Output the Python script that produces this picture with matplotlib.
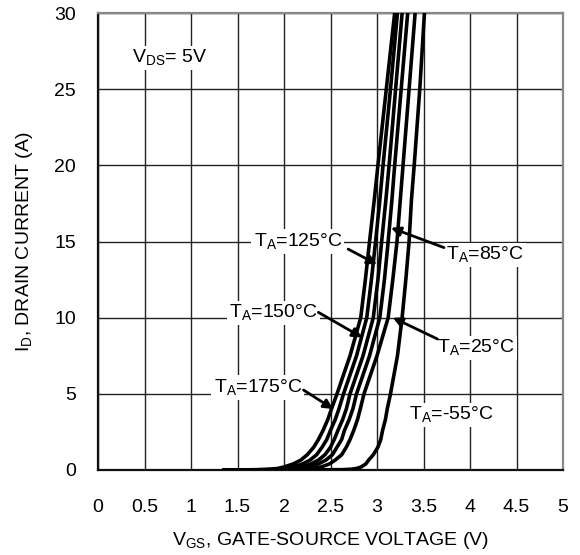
import matplotlib
matplotlib.use("Agg")
import matplotlib.pyplot as plt

plt.rcParams['font.family'] = ['Liberation Sans', 'DejaVu Sans']
plt.rcParams['mathtext.fontset'] = 'custom'
plt.rcParams['mathtext.rm'] = 'Liberation Sans'

# Drain current levels (A) at which the gate voltage of each curve was read
current = [0, 0.02, 0.05, 0.1, 0.2, 0.4, 0.65, 1.0, 1.5, 2.0, 2.6, 3.3, 4.0,
           5, 7.5, 10, 12.5, 15, 17.7, 20, 25, 30]

# Gate-source voltage (V) for each ambient temperature
vgs_175 = [1.35, 1.72, 1.85, 1.93, 2.00, 2.10, 2.18, 2.25, 2.32, 2.37, 2.42, 2.47, 2.51,
           2.57, 2.71, 2.825, 2.875, 2.92, 2.97, 3.01, 3.10, 3.19]
vgs_150 = [1.35, 1.80, 1.94, 2.03, 2.10, 2.20, 2.28, 2.35, 2.41, 2.46, 2.50, 2.55, 2.59,
           2.64, 2.78, 2.89, 2.94, 2.985, 3.03, 3.065, 3.145, 3.22]
vgs_125 = [1.35, 1.88, 2.03, 2.12, 2.20, 2.29, 2.37, 2.44, 2.50, 2.54, 2.58, 2.63, 2.67,
           2.71, 2.85, 2.96, 3.01, 3.05, 3.095, 3.13, 3.20, 3.27]
vgs_85 = [1.35, 1.95, 2.10, 2.19, 2.28, 2.37, 2.45, 2.52, 2.57, 2.62, 2.65, 2.70, 2.74,
          2.78, 2.92, 3.03, 3.08, 3.12, 3.16, 3.19, 3.26, 3.33]
vgs_25 = [1.35, 2.08, 2.23, 2.32, 2.40, 2.49, 2.55, 2.62, 2.67, 2.71, 2.75, 2.79, 2.82,
          2.86, 3.00, 3.12, 3.17, 3.215, 3.25, 3.28, 3.345, 3.41]
vgs_m55 = [1.35, 2.62, 2.72, 2.78, 2.83, 2.88, 2.91, 2.96, 3.01, 3.04, 3.06, 3.09, 3.11,
           3.145, 3.22, 3.27, 3.31, 3.345, 3.37, 3.40, 3.46, 3.51]

curves = [vgs_175, vgs_150, vgs_125, vgs_85, vgs_25, vgs_m55]

x_ticks = [0, 0.5, 1, 1.5, 2, 2.5, 3, 3.5, 4, 4.5, 5]
x_tick_labels = ['0', '0.5', '1', '1.5', '2', '2.5', '3', '3.5', '4', '4.5', '5']
y_ticks = [0, 5, 10, 15, 20, 25, 30]
y_tick_labels = ['0', '5', '10', '15', '20', '25', '30']

fig = plt.figure(figsize=(5.8, 5.55), dpi=100)
ax = fig.add_axes([98/580, 85/555, 465/580, 457/555])

ax.set_xlim(0, 5)
ax.set_ylim(0, 30)
ax.set_xticks(x_ticks)
ax.set_xticklabels(x_tick_labels)
ax.set_yticks(y_ticks)
ax.set_yticklabels(y_tick_labels)
ax.tick_params(axis='both', length=0, labelsize=14)
ax.tick_params(axis='x', pad=21)
ax.tick_params(axis='y', pad=16)
ax.grid(True, color='#222222', linewidth=1.0, zorder=1)
ax.set_axisbelow(True)

for s in ['left', 'bottom']:
    ax.spines[s].set_color('#111111')
    ax.spines[s].set_linewidth(1.6)
for s in ['top', 'right']:
    ax.spines[s].set_color('#888888')
    ax.spines[s].set_linewidth(1.6)

for v in curves:
    ax.plot(v, current, color='black', linewidth=2.6, solid_capstyle='round',
            solid_joinstyle='round', zorder=3)

ax.set_xlabel(r'V$_{\mathregular{GS}}$, GATE-SOURCE VOLTAGE (V)', fontsize=14, labelpad=10)
ax.set_ylabel(r'I$_{\mathregular{D}}$, DRAIN CURRENT (A)', fontsize=14, labelpad=14)

bbox = dict(facecolor='white', edgecolor='none', pad=1.5)
ax.text(0.77, 27.05, r'V$_{\mathregular{DS}}$= 5V', fontsize=14, ha='center', va='center',
        bbox=bbox, zorder=4)

labels = [
    ('125', (2.15, 15.0), (2.69, 14.5), (3.0, 13.5)),
    ('85', (4.16, 14.1), (3.72, 14.6), (3.15, 15.9)),
    ('150', (1.89, 10.3), (2.37, 10.35), (2.84, 8.7)),
    ('25', (4.06, 8.0), (3.65, 8.6), (3.17, 10.0)),
    ('175', (1.72, 5.4), (2.21, 5.25), (2.53, 4.0)),
]
for t, txy, start, tip in labels:
    ax.text(txy[0], txy[1], r'T$_{\mathregular{A}}$=' + t + '°C', fontsize=14,
            ha='center', va='center', bbox=bbox, zorder=4)
    ax.annotate('', xy=tip, xytext=start,
                arrowprops=dict(arrowstyle='-|>', color='black', lw=2.0,
                                mutation_scale=14, shrinkA=0, shrinkB=0),
                zorder=5)

ax.text(3.80, 3.6, r'T$_{\mathregular{A}}$=-55°C', fontsize=14, ha='center', va='center',
        bbox=bbox, zorder=4)

fig.savefig('out.png', dpi=100)
